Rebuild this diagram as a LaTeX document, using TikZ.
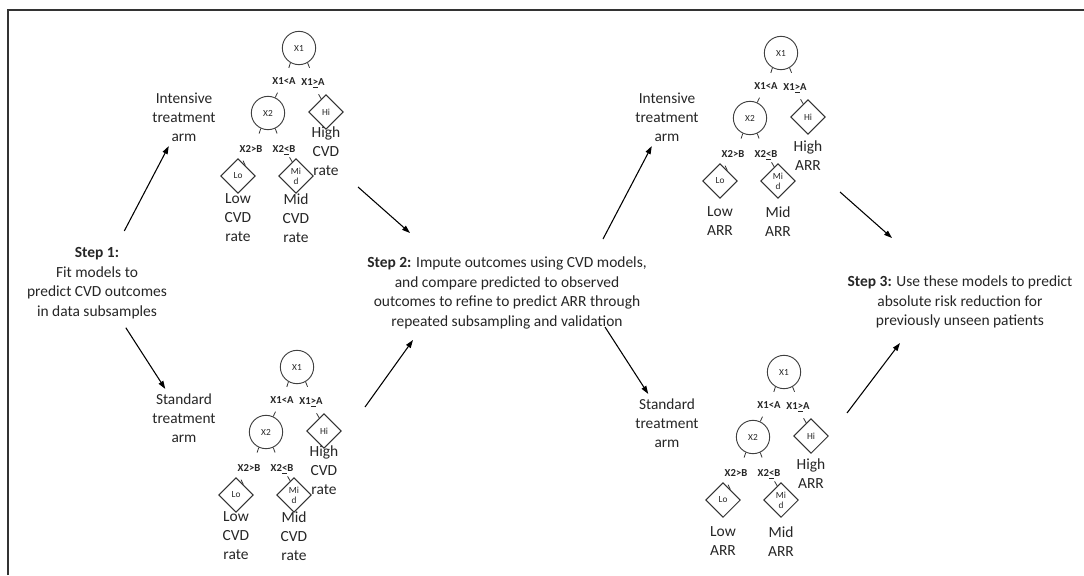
\documentclass[tikz,border=0pt]{standalone}
\usepackage{fontspec}
\setmainfont{Carlito}
\usepackage{tikz}
\usetikzlibrary{shapes.geometric, arrows.meta, positioning, calc}
\tikzstyle{split}    = [circle, draw=black!75, line width=0.7pt, minimum size=25pt, inner sep=0pt, font=\fontsize{7}{8}\selectfont]
\tikzstyle{leaf}     = [diamond, draw=black!80, line width=0.7pt, minimum size=26pt, inner sep=0pt, align=center, font=\fontsize{7}{7.5}\selectfont]
\tikzstyle{rule}     = [inner sep=0pt, font=\bfseries\fontsize{8}{9}\selectfont]
\tikzstyle{outcome}  = [anchor=north, inner sep=0pt, align=center, font=\fontsize{11.6}{14.25}\selectfont]
\tikzstyle{arm}      = [align=center, font=\fontsize{11.5}{14.25}\selectfont]
\tikzstyle{steptext} = [align=center, font=\fontsize{11.6}{14.6}\selectfont]
\tikzstyle{stub}     = [line width=0.6pt, black!80]
\tikzstyle{arrow}    = [line width=0.8pt, -{Triangle[length=6pt,width=4pt]}]

% one decision tree: prefix, root position, outcome unit, top of high label, top of low/mid labels
\newcommand{\cvdtree}[5]{%
  \begin{scope}[shift={#2}]
    \node[split] (#1x1) at (0,0) {X1};
    \node[rule] (#1ra) at (-15,33) {X1<A};
    \node[rule] (#1rb) at (14,35) {X1\underline{>}A};
    \node[split] (#1x2) at (-31,65) {X2};
    \node[leaf] (#1hi) at (27,64) {Hi};
    \node[rule] (#1rc) at (-48,101) {X2>B};
    \node[rule] (#1rd) at (-15,102) {X2\underline{<}B};
    \node[leaf] (#1lo) at (-61,128) {Lo};
    \node[leaf] (#1mid) at (-3,128) {Mi\\d};
    \node[outcome] (#1hl) at (27,#4) {High\\#3};
    \node[outcome] (#1ll) at (-61,#5) {Low\\#3};
    \node[outcome] (#1ml) at (-3,#5) {Mid\\#3};
    % cut-off branches
    \draw[stub] (#1x1.-120) -- ++(-108:4pt);
    \draw[stub] (#1x1.-60) -- ++(-68:4pt);
    \draw[stub] (#1x2.65) -- ++(65:4pt);
    \draw[stub] (#1x2.-115) -- ++(-108:4pt);
    \draw[stub] (#1x2.-65) -- ++(-70:4pt);
    \draw[stub] (#1hi.110) -- ++(120:4pt);
    \draw[stub] (#1lo.55) -- ++(115:4pt);
    \draw[stub] (#1mid.105) -- ++(120:4pt);
  \end{scope}}

\begin{document}
\begin{tikzpicture}[x=0.75pt, y=-0.75pt, every node/.style={text=black!85}]
  \useasboundingbox (0,0) rectangle (1084,575);
  % frame
  \draw[line width=1.5pt, black!80] (8,575) -- (8,10) -- (1084,10);

  % Steps
  \node[steptext] (step1) at (97,283) {\textbf{Step 1:}\\Fit models to\\predict CVD outcomes\\in data subsamples};
  \node[steptext] (step2) at (507,293) {\textbf{Step 2:} Impute outcomes using CVD models,\\and compare predicted to observed\\outcomes to refine to predict ARR through\\repeated subsampling and validation};
  \node[steptext] (step3) at (960,302) {\textbf{Step 3:} Use these models to predict\\absolute risk reduction for\\previously unseen patients};

  % Treatment arms
  \node[arm] (int1) at (184,117) {Intensive\\treatment\\arm};
  \node[arm] (std1) at (184,418) {Standard\\treatment\\arm};
  \node[arm] (int2) at (667,117) {Intensive\\treatment\\arm};
  \node[arm] (std2) at (667,423) {Standard\\treatment\\arm};

  % Trees
  \cvdtree{ta}{(299,48)}{CVD\\rate}{78}{145}
  \cvdtree{tb}{(297,367)}{CVD\\rate}{78}{144}
  \cvdtree{tc}{(781,53)}{ARR}{87}{153}
  \cvdtree{td}{(784,372)}{ARR}{86}{154}

  % loose arrow ends
  \coordinate (t1out) at (358,187);
  \coordinate (s2a) at (410,233);
  \coordinate (t2out) at (365,407);
  \coordinate (s2b) at (413,340);
  \coordinate (s2c) at (603,239);
  \coordinate (s2d) at (605,327);
  \coordinate (t3out) at (840,192);
  \coordinate (s3a) at (892,238);
  \coordinate (t4out) at (847,413);
  \coordinate (s3b) at (900,343);

  % Flows
  \draw[arrow, shorten <=10pt] (step1) -- (int1);
  \draw[arrow, shorten <=4pt] (step1) -- (std1);
  \draw[arrow] (t1out) -- (s2a);
  \draw[arrow] (t2out) -- (s2b);
  \draw[arrow] (s2c) -- (int2);
  \draw[arrow] (s2d) -- (std2);
  \draw[arrow] (t3out) -- (s3a);
  \draw[arrow] (t4out) -- (s3b);
\end{tikzpicture}
\end{document}
